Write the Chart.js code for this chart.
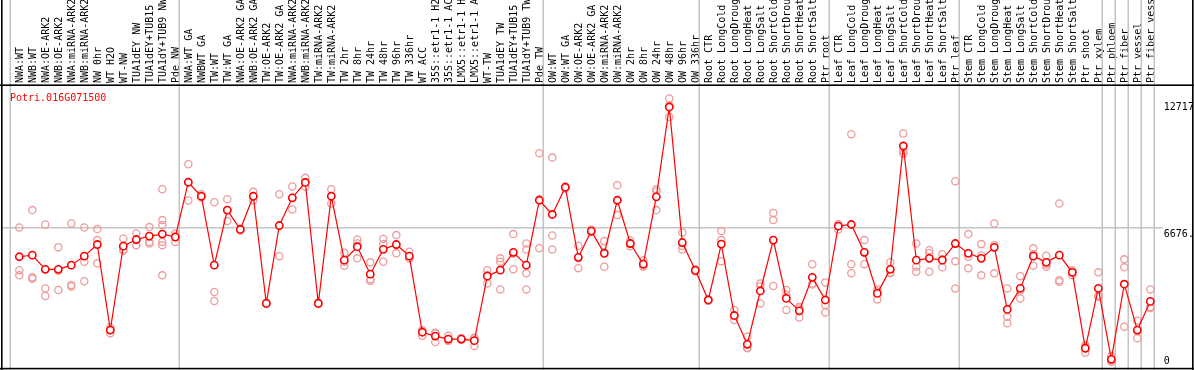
<!DOCTYPE html>
<html>
<head>
<meta charset="utf-8">
<script src="https://cdn.jsdelivr.net/npm/chart.js@4.4.1/dist/chart.umd.min.js"></script>
<style>
  html, body { margin: 0; padding: 0; background: #fff; }
  canvas { display: block; }
</style>
</head>
<body>
<canvas id="chart" width="1194" height="370"></canvas>
<script>
const geneId = 'Potri.016G071500';

const labels = [
  'NWA:WT', 'NWB:WT', 'NWA:OE-ARK2', 'NWB:OE-ARK2', 'NWA:miRNA-ARK2', 'NWB:miRNA-ARK2',
  'NW 0hr', 'WT H2O', 'WT-NW', 'TUA1dEY NW', 'TUA1dEY+TUB15 NW', 'TUA1dY+TUB9 NW', 'Pde NW',
  'NWA:WT GA', 'NWBWT GA', 'TW:WT', 'TW:WT GA', 'NWA:OE-ARK2 GA', 'NWB:OE-ARK2 GA',
  'TW:OE-ARK2', 'TW:OE-ARK2 GA', 'NWA:miRNA-ARK2 GA', 'NWB:miRNA-ARK2 GA', 'TW:miRNA-ARK2',
  'TW:miRNA-ARK2 GA', 'TW 2hr', 'TW 8hr', 'TW 24hr', 'TW 48hr', 'TW 96hr', 'TW 336hr',
  'WT ACC', '35S::etr1-1 H2O', '35S::etr1-1 ACC', 'LMX5::etr1-1 H2O', 'LMX5::etr1-1 ACC',
  'WT-TW', 'TUA1dEY TW', 'TUA1dEY+TUB15 TW', 'TUA1dY+TUB9 TW', 'Pde TW',
  'OW:WT', 'OW:WT GA', 'OW:OE-ARK2', 'OW:OE-ARK2 GA', 'OW:miRNA-ARK2', 'OW:miRNA-ARK2 GA',
  'OW 2hr', 'OW 8hr', 'OW 24hr', 'OW 48hr', 'OW 96hr', 'OW 336hr',
  'Root CTR', 'Root LongCold', 'Root LongDrought', 'Root LongHeat', 'Root LongSalt',
  'Root ShortCold', 'Root ShortDrought', 'Root ShortHeat', 'Root ShortSalt', 'Ptr root',
  'Leaf CTR', 'Leaf LongCold', 'Leaf LongDrought', 'Leaf LongHeat', 'Leaf LongSalt',
  'Leaf ShortCold', 'Leaf ShortDrought', 'Leaf ShortHeat', 'Leaf ShortSalt', 'Ptr leaf',
  'Stem CTR', 'Stem LongCold', 'Stem LongDrought', 'Stem LongHeat', 'Stem LongSalt',
  'Stem ShortCold', 'Stem ShortDrought', 'Stem ShortHeat', 'Stem ShortSalt',
  'Ptr shoot', 'Ptr xylem', 'Ptr phloem', 'Ptr fiber', 'Ptr vessel', 'Ptr fiber vessel'
];

// mean expression per sample (red line)
const meanValues = [
  5240, 5320, 4610, 4610, 4820, 5270, 5850, 1580, 5770, 6100, 6270, 6370, 6220,
  8960, 8260, 4820, 7570, 6600, 8260, 2910, 6800, 8180, 8950, 2910, 8260, 5070, 5740,
  4370, 5610, 5850, 5270, 1470, 1280, 1130, 1130, 1050, 4270, 4570, 5460, 4820, 8060,
  7350, 8710, 5210, 6520, 5410, 8060, 5900, 4870, 8230, 12717, 5950, 4560,
  3080, 5870, 2310, 870, 3530, 6070, 3160, 2540, 4210, 3080,
  6770, 6850, 5460, 3410, 4610, 10770, 5070, 5160, 5070, 5900,
  5410, 5160, 5710, 2610, 3660, 5270, 4960, 5320, 4460, 670, 3660,
  120, 3870, 1580, 3010
];

// individual replicate values per sample (pink circles)
const replicates = [
  [6700, 4570, 4310], [7570, 4210, 4140], [6850, 3660, 3280], [5720, 3580, 4540],
  [6900, 3830, 3760], [6700, 4990, 4020], [6620, 6070, 4910], [1720, 1420, 1600],
  [6150, 5600, 5550], [6400, 5820, 6080], [6720, 5980, 5900],
  [8610, 7070, 6820, 5980, 5820, 4310], [6400, 5980, 6270],
  [9860, 8050, 8960], [8360, 8200, 8220], [7960, 3480, 3030], [8110, 7020, 7570],
  [6650, 6550, 6600], [8480, 8060, 8240], [2950, 2880, 2900], [8360, 5270, 6770],
  [8750, 7600, 8190], [9180, 8730, 8950], [2950, 2880, 2900], [8610, 7900, 8270],
  [5440, 4790, 4990], [6100, 5900, 5160], [4960, 4040, 4120], [6130, 5870, 4990],
  [6320, 5410, 5830], [5490, 5160, 5170], [1580, 1300, 1530], [1450, 980, 1410],
  [1300, 1050, 1050], [1180, 1100, 1110], [1170, 780, 1190], [4570, 3910, 4330],
  [5160, 4990, 3610], [6370, 4620, 5390], [5900, 5600, 4410, 3610], [10410, 5670, 8110],
  [10190, 6300, 5600], [8750, 8650, 8720], [5790, 4670, 5170], [6600, 6480, 6480],
  [6020, 4740, 5470], [8810, 7320, 8060], [6050, 5770, 5880], [5070, 4740, 4800],
  [8610, 8510, 7570], [13140, 12220, 12800], [6450, 5600, 5790], [4620, 4500, 4560],
  [3120, 3040, 3080], [6520, 6070, 5020], [2580, 2080, 2280], [1250, 670, 690],
  [3910, 2910, 3770], [7430, 7070, 3780], [3580, 2580, 3330], [2740, 2210, 2660],
  [4870, 3910, 3850], [3960, 2830, 2460],
  [6600, 6850, 6860], [11360, 4870, 4420], [6070, 4870, 5440], [3610, 3110, 3510],
  [4970, 4410, 4450], [11390, 10390, 10530], [5900, 4740, 4490], [5570, 4490, 5420],
  [5370, 4710, 5130], [9010, 5010, 3660],
  [6370, 5240, 4660], [5870, 4310, 5300], [6900, 4410, 5820], [3660, 2240, 1920],
  [4270, 3160, 3550], [5660, 4790, 5370], [5290, 4740, 4850], [7900, 3990, 4070],
  [4570, 4320, 4480], [830, 450, 730], [4460, 3240, 3290],
  [280, 0, 80], [5110, 4710, 1750], [2050, 1170, 1530], [3610, 2740, 2680]
];

// index of the last sample of each group (-1 = line before the first one)
const groupEnds = [-1, 12, 40, 52, 62, 72, 83, 84, 85, 86, 87];

const yTicks = [0, 6676, 12717];
const yTickLabels = ['0', '6676.', '12717'];
const midLineValue = 6676;

const MONO = '"DejaVu Sans Mono", monospace';
const GRAY = '#c4c4c4';

const decorations = {
  id: 'decorations',
  beforeDatasetsDraw(chart) {
    const { ctx, width, height, scales: { x, y } } = chart;
    ctx.save();
    ctx.fillStyle = GRAY;
    groupEnds.forEach(i => {
      const px = Math.round(x.getPixelForValue(i) + 5);
      ctx.fillRect(px - 1.5, 0, 1.5, height);
    });
    const py = Math.round(y.getPixelForValue(midLineValue));
    ctx.fillRect(1, py - 1, x.right + 5, 1.5);

    ctx.fillStyle = '#ff0000';
    ctx.font = '10px ' + MONO;
    ctx.textBaseline = 'alphabetic';
    ctx.fillText(geneId, 10, 100.5);
    ctx.restore();
  },
  afterDraw(chart) {
    const { ctx, width, height } = chart;
    ctx.save();
    ctx.fillStyle = '#000';
    ctx.fillRect(1, 0, 1.6, height);
    ctx.fillRect(width - 2, 0, 1.6, height);
    ctx.fillRect(0, height - 2.2, width, 1.6);
    ctx.fillRect(0, 84.4, width, 1.6);
    ctx.restore();
  }
};

new Chart(document.getElementById('chart'), {
  type: 'line',
  data: {
    labels: labels,
    datasets: [
      {
        label: geneId,
        data: meanValues,
        borderColor: '#ff0000',
        borderWidth: 1.2,
        tension: 0,
        pointStyle: 'circle',
        pointRadius: 3.6,
        pointBorderWidth: 1.6,
        pointBorderColor: '#ff0000',
        pointBackgroundColor: '#ffffff',
        order: 1
      },
      {
        label: 'replicates',
        data: replicates.flatMap((vals, i) => vals.map(v => ({ x: labels[i], y: v }))),
        showLine: false,
        pointStyle: 'circle',
        pointRadius: 3.6,
        pointBorderWidth: 1.3,
        pointBorderColor: '#ee9c9c',
        pointBackgroundColor: 'rgba(0,0,0,0)',
        order: 2
      }
    ]
  },
  options: {
    responsive: false,
    animation: false,
    devicePixelRatio: 1,
    layout: { autoPadding: false, padding: { left: 12.8, right: 0, top: 0, bottom: 2 } },
    plugins: { legend: { display: false }, tooltip: { enabled: false }, title: { display: false } },
    scales: {
      x: {
        position: 'top',
        offset: true,
        grid: { display: false, drawTicks: false },
        border: { display: false },
        afterFit: s => { s.height = 86; },
        ticks: {
          autoSkip: false,
          minRotation: 90,
          maxRotation: 90,
          padding: 3,
          labelOffset: 13,   // rotated top labels otherwise sit a line-height left of their point
          color: '#000',
          font: { family: MONO, size: 10 }
        }
      },
      y: {
        position: 'right',
        min: -315,
        max: 13765,
        grid: { display: false, drawTicks: false },
        border: { display: false },
        afterBuildTicks: s => { s.ticks = yTicks.map(v => ({ value: v })); },
        afterFit: s => {
          s.width = 37.2;
          s.paddingTop = 0;
          s.paddingBottom = 0;
        },
        ticks: {
          padding: 7,
          color: '#000',
          font: { family: MONO, size: 10 },
          // the middle label sits half a line below its grid line
          callback: (v, i) => v === midLineValue ? ['', yTickLabels[i]] : yTickLabels[i]
        }
      }
    }
  },
  plugins: [decorations]
});
</script>
</body>
</html>
